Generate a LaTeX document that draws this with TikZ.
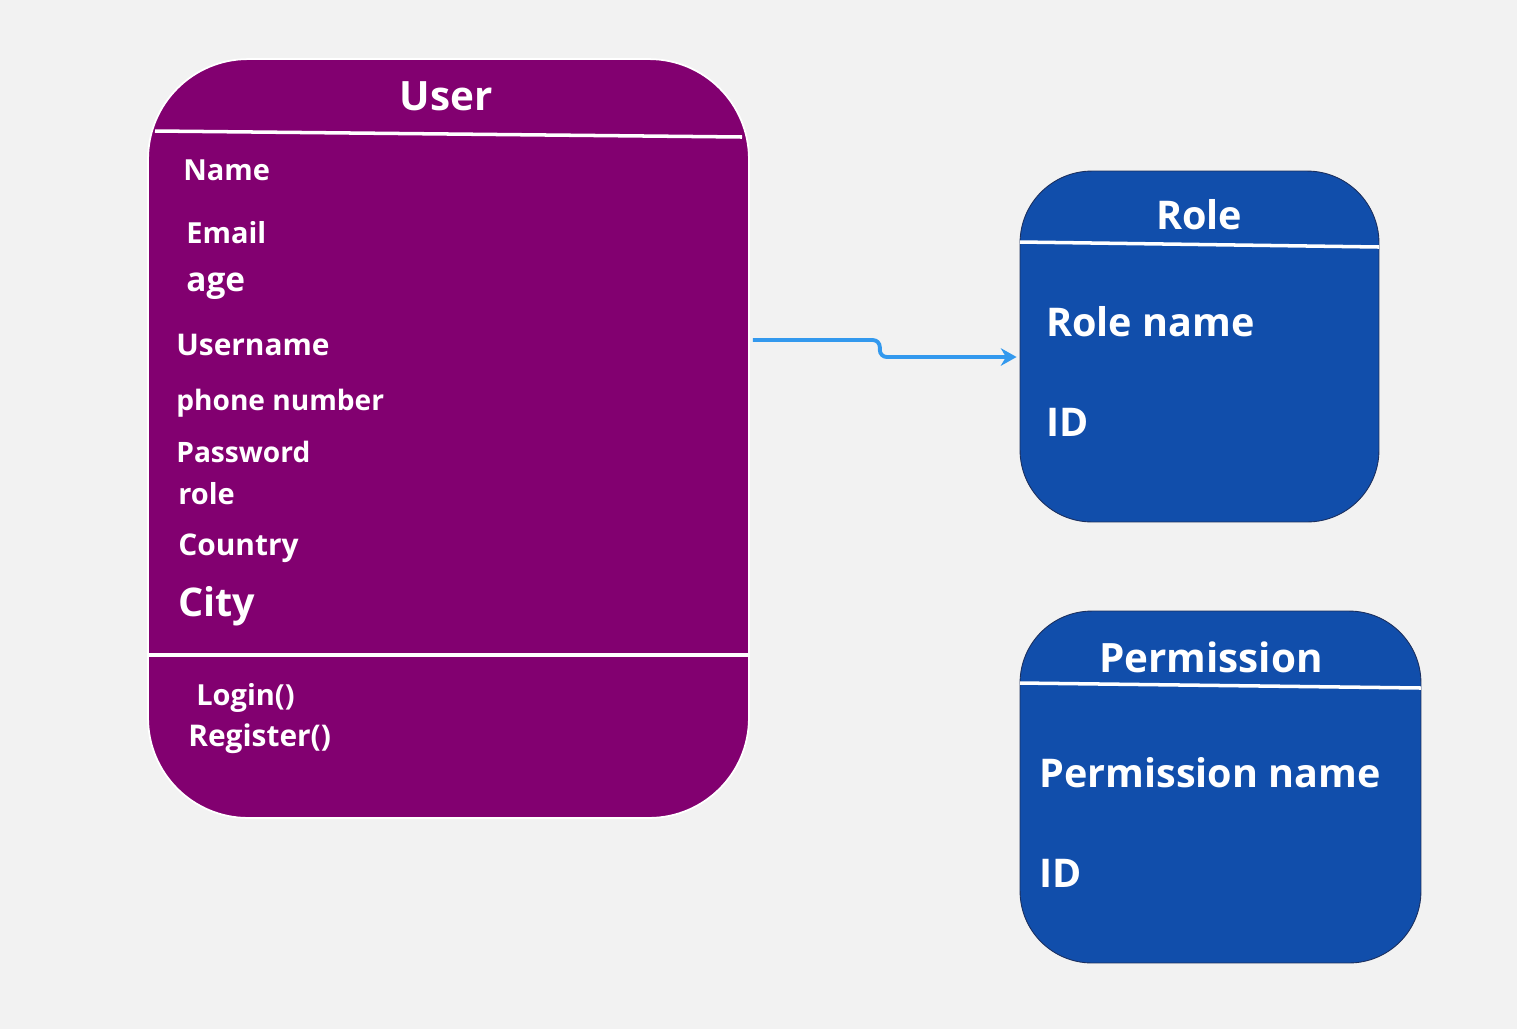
\documentclass[tikz,border=0pt]{standalone}
\usepackage{fontspec}
\usetikzlibrary{arrows.meta}
\setmainfont{Open Sans}
\definecolor{bg}{HTML}{F2F2F2}
\definecolor{plum}{HTML}{820070}
\definecolor{navy}{HTML}{114EAB}
\definecolor{edge}{HTML}{1B2F5E}
\definecolor{sky}{HTML}{3399EE}
\newcommand{\fs}[1]{\bfseries\fontsize{#1}{#1}\selectfont}

\begin{document}
\begin{tikzpicture}[x=0.02cm, y=-0.02cm,
    cls/.style = {draw, minimum width=#1, inner sep=0pt},
    title/.style = {text=white, anchor=base, inner sep=0pt},
    attr/.style = {text=white, anchor=base west, inner sep=0pt},
    sep/.style = {white, line width=2pt},
    link/.style = {sky, line width=2.2pt, rounded corners=4pt, -{Stealth[length=9pt,width=10pt]}}]
                \fill[bg] (0,0) rectangle (1517,1029);
                \useasboundingbox (0,0) rectangle (1517,1029);
                % class boxes
                \node[cls=12.02cm, minimum height=15.18cm, fill=plum, draw=white, line width=1pt, rounded corners=2cm] (user) at (448.5,438.5) {};
                \node[cls=7.18cm, minimum height=7.02cm, fill=navy, draw=edge, line width=0.5pt, rounded corners=1.44cm] (role) at (1199.5,346.5) {};
                \node[cls=8.02cm, minimum height=7.04cm, fill=navy, draw=edge, line width=0.5pt, rounded corners=1.44cm] (perm) at (1220.5,787) {};
                % separators
                \draw[sep] (155,131) -- (742,137);
                \draw[sep] (148,655) -- (749,655);
                \draw[sep] (1020,242) -- (1379,247);
                \draw[sep] (1020,683) -- (1421,688);
                % titles
                \node[title, font=\fs{23}] (t1) at (446,110) {User};
                \node[title, font=\fs{22.5}] (t2) at (1199,229) {Role};
                \node[title, font=\fs{23}] (t3) at (1211,672) {Permission};
                % user attributes
                \node[attr, font=\fs{16.5}] (a1) at (183,180) {Name};
                \node[attr, font=\fs{16.5}] (a2) at (186,243) {Email};
                \node[attr, font=\fs{19}] (a3) at (186,291) {age};
                \node[attr, font=\fs{17}] (a4) at (176,355) {Username};
                \node[attr, font=\fs{16}] (a5) at (176,410) {phone number};
                \node[attr, font=\fs{16}] (a6) at (176,462) {Password};
                \node[attr, font=\fs{16.5}] (a7) at (178,504) {role};
                \node[attr, font=\fs{17}] (a8) at (178,555) {Country};
                \node[attr, font=\fs{22.5}] (a9) at (178,616) {City};
                % user methods
                \node[attr, font=\fs{16.5}] (m1) at (196,705) {Login()};
                \node[attr, font=\fs{17}] (m2) at (188,746) {Register()};
                % role and permission attributes
                \node[attr, font=\fs{22.5}] (r1) at (1046,336) {Role name};
                \node[attr, font=\fs{22.5}] (r2) at (1046,436) {ID};
                \node[attr, font=\fs{22.5}] (p1) at (1039,787) {Permission name};
                \node[attr, font=\fs{22.5}] (p2) at (1039,887) {ID};
                % association
                \draw[link] ([xshift=0.06cm, yshift=1.97cm]user.east) -- ++(127,0) |- ([xshift=-0.06cm, yshift=-0.21cm]role.west);
            \end{tikzpicture}
\end{document}
